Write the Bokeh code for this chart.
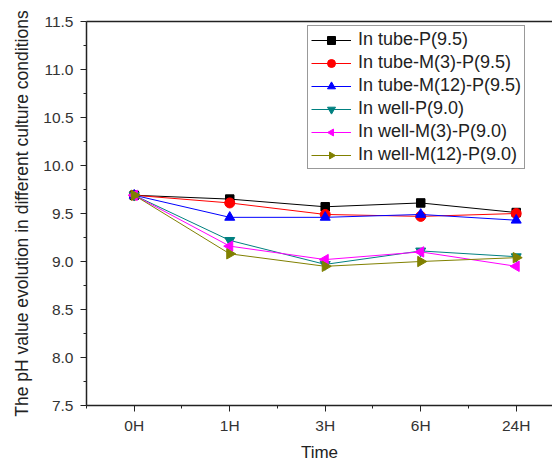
import math
from bokeh.plotting import figure
from bokeh.models import (ColumnDataSource, FixedTicker, Legend, LegendItem, LinearAxis,
                          NumeralTickFormatter, Range1d)
from bokeh.embed import file_html
from bokeh.resources import INLINE

# Sampling times and pH readings for each culture condition
times = ["0H", "1H", "3H", "6H", "24H"]
tube_p95 = [9.69, 9.65, 9.57, 9.61, 9.51]
tube_m3_p95 = [9.69, 9.61, 9.49, 9.47, 9.50]
tube_m12_p95 = [9.69, 9.46, 9.46, 9.49, 9.43]
well_p90 = [9.69, 9.22, 8.97, 9.11, 9.05]
well_m3_p90 = [9.69, 9.16, 9.02, 9.10, 8.95]
well_m12_p90 = [9.69, 9.08, 8.95, 9.00, 9.04]

names = ["In tube-P(9.5)", "In tube-M(3)-P(9.5)", "In tube-M(12)-P(9.5)",
         "In well-P(9.0)", "In well-M(3)-P(9.0)", "In well-M(12)-P(9.0)"]
series = [tube_p95, tube_m3_p95, tube_m12_p95, well_p90, well_m3_p90, well_m12_p90]
colors = ["#000000", "#ff0000", "#0000ff", "#008080", "#ff00ff", "#808000"]
markers = ["square", "circle", "triangle", "inverted_triangle", "left", "right"]
sizes = [8.5, 10, 10, 10, 10, 10]

xs = list(range(len(times)))
FONT = "Liberation Sans"
INK = "#222222"

p = figure(width=552, height=464, output_backend="svg", toolbar_location=None,
           x_range=Range1d(-0.5, 4.38), y_range=Range1d(7.5, 11.5))
p.min_border_left = 86
p.min_border_right = 0
p.min_border_top = 21
p.min_border_bottom = 59
p.background_fill_color = "white"
p.border_fill_color = "white"
p.outline_line_color = None
p.grid.visible = False

items = []
for name, ys, c, m, s in zip(names, series, colors, markers, sizes):
    src = ColumnDataSource(dict(x=xs, y=ys))
    ln = p.line("x", "y", source=src, line_color=c, line_width=1)
    if m in ("left", "right"):
        # sideways triangles drawn as rotated 3-gons
        ang = math.pi / 2 if m == "left" else -math.pi / 2
        sc = p.ngon("x", "y", radius=6, radius_units="screen", n=3, angle=ang,
                    source=src, fill_color=c, line_color=c)
    else:
        sc = p.scatter("x", "y", source=src, marker=m, size=s, fill_color=c, line_color=c)
    items.append(LegendItem(label=name, renderers=[ln, sc]))

legend = Legend(items=items, location=(221, 236))
legend.label_text_font = FONT
legend.label_text_font_size = "18px"
legend.label_text_color = INK
legend.glyph_width = 40
legend.glyph_height = 20
legend.label_height = 20
legend.spacing = 2
legend.padding = 3
legend.margin = 0
legend.border_line_color = "#333333"
legend.border_line_width = 1
legend.label_standoff = 7
p.add_layout(legend)

xa = p.below[0]
ya = p.left[0]

# plain top border line
top = LinearAxis(ticker=FixedTicker(ticks=[]), major_tick_line_color=None,
                 minor_tick_line_color=None, major_label_text_font_size="0px",
                 axis_line_color=INK, axis_line_width=1.5)
p.add_layout(top, "above")

# x axis: times as labelled positions, minor ticks halfway between
xa.ticker = FixedTicker(ticks=xs, minor_ticks=[-0.5, 0.5, 1.5, 2.5, 3.5, 4.5])
xa.major_label_overrides = {i: t for i, t in enumerate(times)}
xa.axis_label = "Time"

ya.ticker = FixedTicker(ticks=[7.5, 8.0, 8.5, 9.0, 9.5, 10.0, 10.5, 11.0, 11.5],
                        minor_ticks=[7.75, 8.25, 8.75, 9.25, 9.75, 10.25, 10.75, 11.25])
ya.formatter = NumeralTickFormatter(format="0.0")
ya.axis_label = "The pH value evolution in different culture conditions"

for ax in (xa, ya):
    ax.axis_line_color = INK
    ax.axis_line_width = 1.5
    ax.major_tick_line_color = INK
    ax.minor_tick_line_color = INK
    ax.major_tick_out = 6
    ax.major_tick_in = 0
    ax.minor_tick_out = 3
    ax.minor_tick_in = 0
    ax.major_label_text_font = FONT
    ax.major_label_text_font_size = "15.5px"
    ax.major_label_text_color = "#333333"
    ax.axis_label_text_font = FONT
    ax.axis_label_text_font_style = "normal"
    ax.axis_label_text_color = INK

xa.axis_label_text_font_size = "17px"
ya.axis_label_text_font_size = "17.5px"
xa.major_label_standoff = 5
xa.axis_label_standoff = 6
ya.major_label_standoff = 7
ya.axis_label_standoff = 8

open("out.html", "w").write(file_html(p, INLINE))
